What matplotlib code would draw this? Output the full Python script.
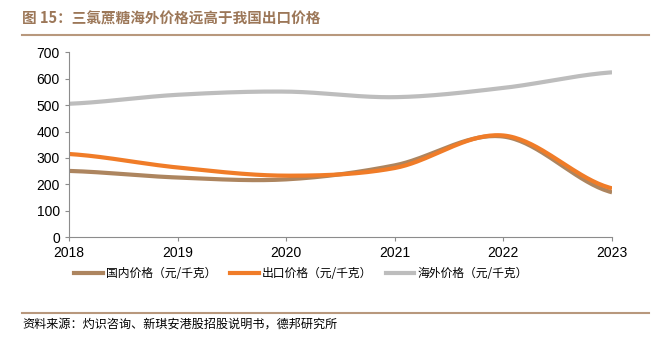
import numpy as np
import matplotlib
matplotlib.use("Agg")
import matplotlib.pyplot as plt
from matplotlib.lines import Line2D

plt.rcParams['font.family'] = ['Noto Sans CJK SC', 'DejaVu Sans']

years = [2018, 2019, 2020, 2021, 2022, 2023]
domestic = [251, 226, 219, 272, 381, 170]
export = [315, 264, 233, 262, 385, 185]
overseas = [505, 539, 551, 530, 565, 624]
labels = ['国内价格（元/千克）', '出口价格（元/千克）', '海外价格（元/千克）']
colors = ['#AD855F', '#F07C28', '#BDBDBD']
title = '图 15：三氯蔗糖海外价格远高于我国出口价格'
source = '资料来源：灼识咨询、新琪安港股招股说明书，德邦研究所'


def smooth(x, y, n=40):
    x = np.asarray(x, float)
    y = np.asarray(y, float)
    px = np.concatenate([[2 * x[0] - x[1]], x, [2 * x[-1] - x[-2]]])
    py = np.concatenate([[y[0]], y, [y[-1]]])
    xs, ys = [], []
    for i in range(1, len(px) - 2):
        p0 = np.array([px[i], py[i]])
        p3 = np.array([px[i + 1], py[i + 1]])
        p1 = p0 + (np.array([px[i + 1], py[i + 1]]) - np.array([px[i - 1], py[i - 1]])) / 6
        p2 = p3 - (np.array([px[i + 2], py[i + 2]]) - np.array([px[i], py[i]])) / 6
        t = np.linspace(0, 1, n)[:, None]
        b = (1 - t) ** 3 * p0 + 3 * (1 - t) ** 2 * t * p1 + 3 * (1 - t) * t ** 2 * p2 + t ** 3 * p3
        xs.extend(b[:, 0]); ys.extend(b[:, 1])
    return np.array(xs), np.array(ys)


fig = plt.figure(figsize=(6.56, 3.37), dpi=100)
ax = fig.add_axes([0.105, 0.296, 0.828, 0.549])

for vals, c in zip([overseas, domestic, export], [colors[2], colors[0], colors[1]]):
    sx, sy = smooth(years, vals)
    ax.plot(sx, sy, color=c, lw=3, solid_capstyle='butt')

ax.set_xlim(2018, 2023)
ax.set_ylim(0, 700)
ax.set_yticks(range(0, 701, 100))
ax.set_xticks(years)
for s in ['top', 'right']:
    ax.spines[s].set_visible(False)
for s in ['left', 'bottom']:
    ax.spines[s].set_color('#8C8C8C')
    ax.spines[s].set_linewidth(0.8)
ax.tick_params(axis='both', colors='#8C8C8C', labelcolor='black', labelsize=10, length=3, width=0.8)
ax.tick_params(axis='x', pad=3)
for lbl in ax.get_xticklabels() + ax.get_yticklabels():
    lbl.set_family(['Liberation Sans', 'DejaVu Sans'])

handles = [Line2D([0], [0], color=c, lw=3) for c in colors]
fig.legend(handles, labels, loc='center', bbox_to_anchor=(0.459, 0.187), ncol=3, frameon=False,
           fontsize=8.5, handlelength=2.4, handletextpad=0.25, columnspacing=1.2)

fig.text(0.034, 0.945, title, fontsize=10.5, color='#9C7758', fontweight='bold', va='center')
fig.add_artist(Line2D([0.034, 0.99], [0.897, 0.897], color='#B8987D', lw=1.5, transform=fig.transFigure))
fig.add_artist(Line2D([0.034, 0.99], [0.071, 0.071], color='#B8987D', lw=1.5, transform=fig.transFigure))
fig.text(0.034, 0.038, source, fontsize=8.7, color='black', va='center')

fig.savefig('out.png', dpi=100)
